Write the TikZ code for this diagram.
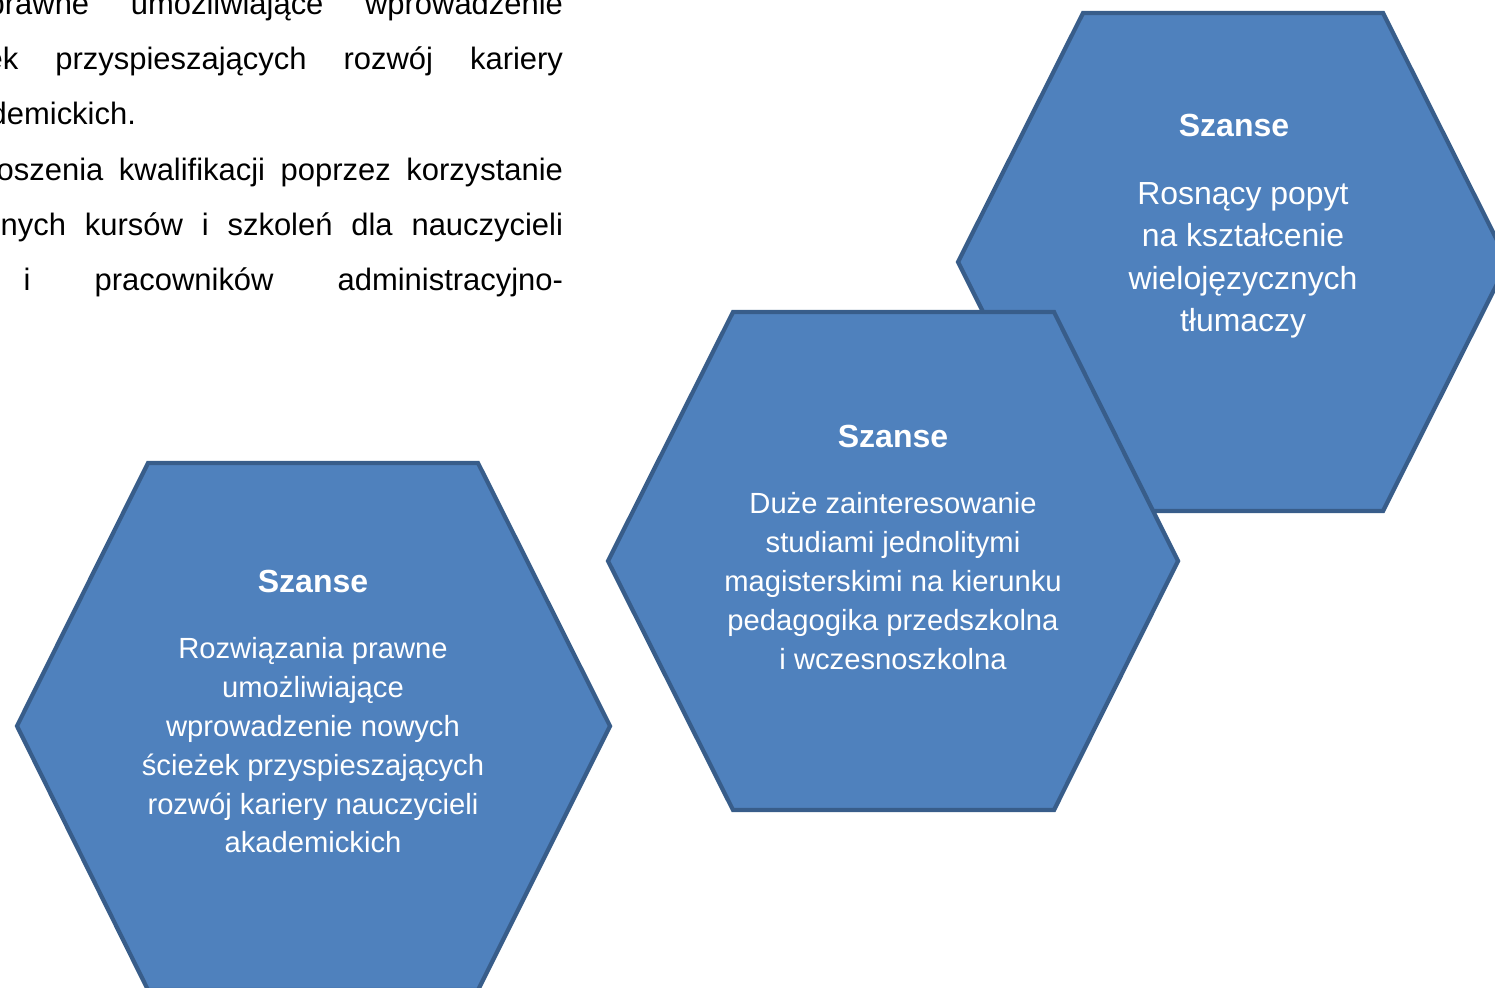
\documentclass[tikz,border=0pt]{standalone}
\usepackage{fontspec}
\setmainfont{Liberation Sans}
\usepackage{tikz}
\definecolor{hexfill}{HTML}{4F81BD}
\definecolor{hexline}{HTML}{385D8A}

\begin{document}
\begin{tikzpicture}[
  x=0.01cm,y=-0.01cm,
  hexcell/.style={fill=hexfill,draw=hexline,line width=1.2pt,line join=miter},
  head/.style={text=white,inner sep=0pt,anchor=base,font=\fontsize{9.1pt}{11pt}\selectfont\bfseries},
  body/.style={text=white,inner sep=0pt,anchor=north,align=center,font=\fontsize{8.3pt}{11.04pt}\selectfont},
  bigbody/.style={body,font=\fontsize{9.08pt}{12.03pt}\selectfont},
  para/.style={inner sep=0pt,anchor=base west,font=\fontsize{8.8pt}{15.8pt}\selectfont}
]
\useasboundingbox (0,0) rectangle (1495,987);
\clip (0,0) rectangle (1495,987);

% page text behind the diagram
\node[para] (line1) at (-13,14) {\makebox[5.75cm][s]{prawne umożliwiające wprowadzenie}};
\node[para] (line2) at (-15,69) {\makebox[5.77cm][s]{ek przyspieszających rozwój kariery}};
\node[para] (line3) at (-11,124) {demickich.};
\node[para] (line4) at (-4,180) {\makebox[5.66cm][s]{oszenia kwalifikacji poprzez korzystanie}};
\node[para] (line5) at (0,235) {\makebox[5.62cm][s]{nych kursów i szkoleń dla nauczycieli}};
\node[para] (line6) at (23,290) {\makebox[5.39cm][s]{i pracowników administracyjno-}};

% top right cell
\draw[hexcell] (1083,13) -- (1383,13) -- (1508,262) -- (1383,511) -- (1083,511) -- (958,262) -- cycle;
\node[head] (head3) at (1234,136) {Szanse};
\node[bigbody] (text3) at (1243,182) {Rosnący popyt\\na kształcenie\\wielojęzycznych\\tłumaczy};

% middle cell
\draw[hexcell] (733,312) -- (1054,312) -- (1178,561) -- (1054,810) -- (733,810) -- (608,561) -- cycle;
\node[head] (head2) at (893,447) {Szanse};
\node[body] (text2) at (893,492) {Duże zainteresowanie\\studiami jednolitymi\\magisterskimi na kierunku\\pedagogika przedszkolna\\i wczesnoszkolna};

% left cell
\draw[hexcell] (148,463) -- (478,463) -- (610,726) -- (478,990) -- (148,990) -- (17,726) -- cycle;
\node[head] (head1) at (313,592) {Szanse};
\node[body] (text1) at (313,637) {Rozwiązania prawne\\umożliwiające\\wprowadzenie nowych\\ścieżek przyspieszających\\rozwój kariery nauczycieli\\akademickich};
\end{tikzpicture}
\end{document}
